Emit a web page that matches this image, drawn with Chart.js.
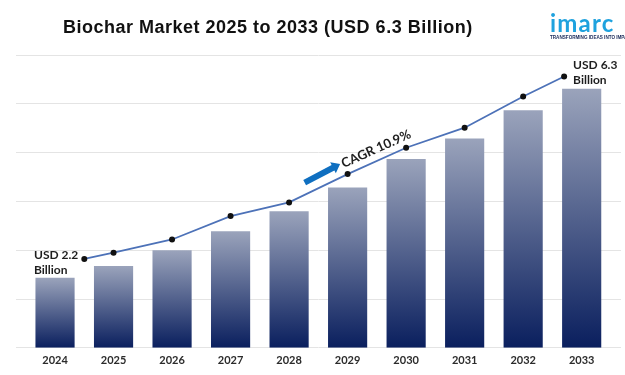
<!DOCTYPE html>
<html lang="en">
<head>
  <meta charset="UTF-8" />
  <title>Biochar Market</title>
  <script src="https://cdn.jsdelivr.net/npm/chart.js"></script>
  <style>
    body { margin: 0; background: #fff; }
    .wrap { position: relative; width: 625px; height: 375px; overflow: hidden; }
    .title {
      position: absolute; left: 63px; top: 18px; margin: 0;
      font: bold 18px/18px "Liberation Sans", Arial, sans-serif; color: #111;
      letter-spacing: 0.5px; white-space: nowrap;
    }
    .logo { position: absolute; left: 550px; top: 11px; white-space: nowrap; }
    .logo .name { font: bold 24px/24px Lato, sans-serif; color: #1fa2de; letter-spacing: 1.2px; }
    .logo .tag { font: bold 4.6px/5px "Liberation Sans", Arial, sans-serif; color: #1b2b5a; margin-top: 0; }
  </style>
</head>
<body>
  <div class="wrap">
    <canvas id="chart"></canvas>
    <h1 class="title">Biochar Market 2025 to 2033 (USD 6.3 Billion)</h1>
    <div class="logo">
      <div class="name">imarc</div>
      <div class="tag">TRANSFORMING IDEAS INTO IMPACT</div>
    </div>
  </div>

  <script>
    // chart values
    const years = ['2024', '2025', '2026', '2027', '2028', '2029', '2030', '2031', '2032', '2033'];
    const barValues = [1.43, 1.67, 1.99, 2.38, 2.79, 3.28, 3.86, 4.28, 4.86, 5.30];
    const trendValues = [1.82, 1.95, 2.22, 2.70, 2.98, 3.56, 4.10, 4.51, 5.15, 5.56];
    const trendAt = [0.5, 1, 2, 3, 4, 5, 6, 7, 8, 8.7];
    const startNote = ['USD 2.2', 'Billion'];
    const endNote = ['USD 6.3', 'Billion'];
    const cagrNote = 'CAGR 10.9%';

    // light-to-dark fill, one gradient per bar
    function barFill(c) {
      const chart = c.chart;
      if (!c.parsed || !chart.chartArea) return '#3b4c7c';
      const y = chart.scales.y;
      const top = y.getPixelForValue(c.parsed.y);
      const bottom = y.getPixelForValue(0);
      const g = chart.ctx.createLinearGradient(0, top, 0, bottom);
      g.addColorStop(0, '#9aa3bb');
      g.addColorStop(1, '#0a1f5e');
      return g;
    }

    // value notes and the CAGR arrow, placed from the trend points
    const notes = {
      id: 'notes',
      afterDatasetsDraw(chart) {
        const pts = chart.getDatasetMeta(1).data;
        const ctx = chart.ctx;
        ctx.save();
        ctx.fillStyle = '#1e1e1e';
        ctx.font = 'bold 12px Lato';
        ctx.textAlign = 'left';
        ctx.textBaseline = 'alphabetic';

        const a = pts[0];
        const left = a.x - 6 - ctx.measureText(startNote[0]).width;
        ctx.fillText(startNote[0], left, a.y);
        ctx.fillText(startNote[1], left, a.y + 15);

        const b = pts[pts.length - 1];
        ctx.fillText(endNote[0], b.x + 9, b.y - 7);
        ctx.fillText(endNote[1], b.x + 9, b.y + 8);

        const p = pts[5], q = pts[6];
        const ang = Math.atan2(q.y - p.y, q.x - p.x);
        ctx.translate(p.x, p.y);
        ctx.rotate(ang);
        ctx.font = 'bold 13px Lato';
        ctx.fillText(cagrNote, -1, -7);

        ctx.rotate(-0.06);
        ctx.fillStyle = '#0f6fc0';
        ctx.beginPath();
        ctx.moveTo(-42, -15.4);
        ctx.lineTo(-10, -15.4);
        ctx.lineTo(-10, -18.5);
        ctx.lineTo(-2, -12.4);
        ctx.lineTo(-10, -6.3);
        ctx.lineTo(-10, -9.4);
        ctx.lineTo(-42, -9.4);
        ctx.closePath();
        ctx.fill();
        ctx.restore();
      }
    };

    new Chart(document.getElementById('chart'), {
      data: {
        datasets: [
          {
            type: 'bar',
            data: barValues.map((v, i) => ({ x: i, y: v })),
            backgroundColor: barFill,
            barThickness: 38.5,
            order: 2
          },
          {
            type: 'line',
            data: trendValues.map((v, i) => ({ x: trendAt[i], y: v })),
            borderColor: '#4d72b8',
            borderWidth: 1.8,
            tension: 0,
            pointRadius: 3,
            pointBackgroundColor: '#111',
            pointBorderWidth: 0,
            order: 1
          }
        ]
      },
      options: {
        responsive: true,
        maintainAspectRatio: false,
        animation: false,
        layout: { padding: { top: 55, left: 16, right: 0, bottom: 2 } },
        plugins: { legend: { display: false }, tooltip: { enabled: false } },
        scales: {
          x: {
            type: 'linear',
            offset: false,
            min: -0.667,
            max: 9.672,
            afterBuildTicks: (s) => { s.ticks = years.map((_, i) => ({ value: i })); },
            grid: { display: false, drawTicks: false },
            border: { display: false },
            ticks: {
              callback: (v) => years[v],
              autoSkip: false,
              maxRotation: 0,
              padding: 6,
              color: '#2b2b2b',
              font: { family: 'Lato', weight: 'bold', size: 11 }
            }
          },
          y: {
            min: 0,
            max: 6,
            ticks: { display: false, stepSize: 1 },
            grid: { color: '#e4e4e4', drawTicks: false },
            border: { display: false }
          }
        }
      },
      plugins: [notes]
    });
  </script>
</body>
</html>
